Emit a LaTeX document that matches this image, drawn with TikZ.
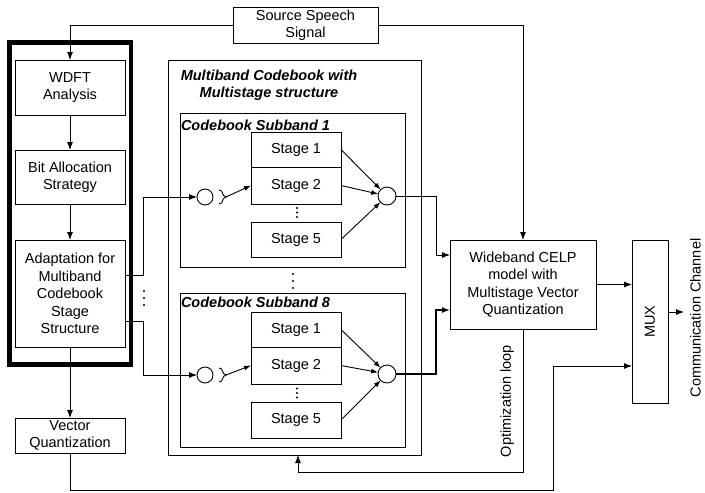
\documentclass[tikz,border=0pt]{standalone}
\usepackage{fontspec}
\setmainfont{Liberation Sans}
\usetikzlibrary{arrows.meta,calc}
\begin{document}
\begin{tikzpicture}[x=1pt,y=-1pt,
  every node/.style={inner sep=0pt, outer sep=0pt},
  txt/.style={font=\fontsize{14.5}{17.5}\selectfont, align=center},
  blk/.style={txt, draw, line width=0.9pt},
  stagebox/.style={blk, minimum width=90pt},
  ttl/.style={font=\fontsize{14.5}{16.5}\selectfont\bfseries\itshape, align=center},
  ln/.style={line width=0.9pt},
  arr/.style={ln, -{Latex[length=8pt,width=6pt]}},
  sarr/.style={ln, -{Latex[length=7pt,width=5pt]}},
  junc/.style={draw, line width=0.9pt, circle, minimum size=16pt},
  dotmark/.style={fill, circle, minimum size=2.4pt},
]
\useasboundingbox (0,0) rectangle (705,493);

% source
\node[blk, minimum width=145pt, minimum height=36pt] (src) at (305.5,25) {Source Speech\\Signal};

% left column
\node[draw, line width=4.5pt, minimum width=121.5pt, minimum height=322pt] (frame) at (70.25,203.5) {};
\node[blk, minimum width=110pt, minimum height=55pt] (wdft) at (70,87.5) {WDFT\\Analysis};
\node[blk, minimum width=110pt, minimum height=54pt] (bit) at (70,177) {Bit Allocation\\Strategy};
\node[blk, minimum width=110pt, minimum height=107pt] (adapt) at (70,293.5) {Adaptation for\\Multiband\\Codebook\\Stage\\Structure};
\node[blk, minimum width=110pt, minimum height=35pt] (vq) at (70,435.5) {Vector\\Quantization};

% multiband codebook
\node[draw, ln, minimum width=253pt, minimum height=395pt] (mb) at (294.5,257.5) {};
\node[ttl] (mbt) at (269,85) {Multiband Codebook with\\Multistage structure};

% subband 1
\node[draw, ln, minimum width=225pt, minimum height=154pt] (sb1) at (292.5,190) {};
\node[ttl, anchor=base west] (sb1t) at (181,130) {Codebook Subband 1};
\node[stagebox, minimum height=35pt] (s11) at (296,149.5) {Stage 1};
\node[stagebox, minimum height=37pt] (s12) at (296,185.5) {Stage 2};
\node[stagebox, minimum height=35pt] (s15) at (296,239.5) {Stage 5};
\node[dotmark] (d11) at (297,208) {};
\node[dotmark] (d12) at (297,212.5) {};
\node[dotmark] (d13) at (297,217) {};
\node[junc] (cl1) at (205,197) {};
\node[junc, minimum size=18pt] (cr1) at (387,196) {};
\draw[ln] (219,190) .. controls (224,190) and (221,196) .. (226,197) .. controls (221,198) and (224,204) .. (219,204);
\coordinate (sw1) at (226,197);
\draw[sarr] (sw1) -- (s12.west);
\draw[sarr] (s11.east) -- (cr1);
\draw[sarr] (s12.east) -- (cr1);
\draw[sarr] (s15.east) -- (cr1);

% dots between subbands
\node[dotmark] (dm1) at (293,274) {};
\node[dotmark] (dm2) at (293,281) {};
\node[dotmark] (dm3) at (293,288) {};

% subband 8
\node[draw, ln, minimum width=225pt, minimum height=154pt] (sb8) at (292.5,370) {};
\node[ttl, anchor=base west] (sb8t) at (181,307) {Codebook Subband 8};
\node[stagebox, minimum height=35pt] (s81) at (296,329.5) {Stage 1};
\node[stagebox, minimum height=37pt] (s82) at (296,365.5) {Stage 2};
\node[stagebox, minimum height=36pt] (s85) at (296,420) {Stage 5};
\node[dotmark] (d81) at (297,388.5) {};
\node[dotmark] (d82) at (297,393) {};
\node[dotmark] (d83) at (297,397.5) {};
\node[junc] (cl8) at (205,375) {};
\node[junc, minimum size=18pt] (cr8) at (387,374) {};
\draw[ln] (219,368) .. controls (224,368) and (221,374) .. (226,375) .. controls (221,376) and (224,382) .. (219,382);
\coordinate (sw8) at (226,375);
\draw[sarr] (sw8) -- (s82.west);
\draw[sarr] (s81.east) -- (cr8);
\draw[sarr] (s82.east) -- (cr8);
\draw[sarr] (s85.east) -- (cr8);

% dots at left feed
\node[dotmark] (dl1) at (144,291) {};
\node[dotmark] (dl2) at (144,298) {};
\node[dotmark] (dl3) at (144,305) {};

% CELP and MUX
\node[blk, minimum width=146pt, minimum height=89pt] (celp) at (523,284.5) {Wideband CELP\\model with\\Multistage Vector\\Quantization};
\node[draw, ln, minimum width=36pt, minimum height=163pt] (mux) at (650,321.5) {};
\node[txt, rotate=90] (muxt) at (mux.center) {MUX};
\node[txt, rotate=90, anchor=north] (comm) at (690,318) {Communication Channel};
\node[txt, rotate=90] (opt) at (507,401) {Optimization loop};

% connectors
\draw[arr] (src.west) -| (wdft.north);
\draw[arr] (src.east) -| (celp.north);
\draw[arr] (wdft.south) -- (bit.north);
\draw[arr] (bit.south) -- (adapt.north);
\draw[arr] (adapt.south) -- (vq.north);
\coordinate (m2) at ([yshift=-44.5pt]mux.west);
\draw[arr] (vq.south) |- (553,490) |- (m2);
\draw[arr] ([yshift=18.5pt]adapt.east) -| (143,197) -- (cl1.west);
\draw[arr] ([yshift=-27.5pt]adapt.east) -| (143,375) -- (cl8.west);
\draw[arr] (cr1.east) -| (436,255) -- ([yshift=29.5pt]celp.west);
\draw[arr, line width=1.4pt] (cr8.east) -| (436,310) -- ([yshift=-25.5pt]celp.west);
\draw[arr] (celp.east) -- (celp.east -| mux.west);
\coordinate (cc) at (684,312);
\draw[arr] ([yshift=9.5pt]mux.east) -- (cc);
\draw[arr] (celp.south) -- (523,472) -| ([xshift=3.5pt]mb.south);
\end{tikzpicture}
\end{document}
